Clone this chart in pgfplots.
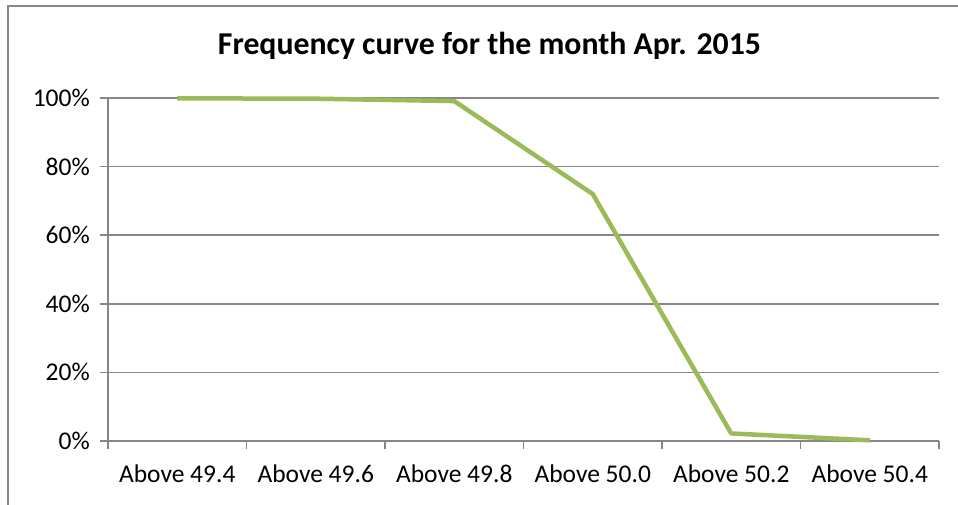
\documentclass[border=0pt]{standalone}
\usepackage{fontspec}
\setmainfont{Carlito}
\usepackage{pgfplots}
\pgfplotsset{compat=1.18}
\definecolor{gridgray}{HTML}{868686}
\definecolor{exgreen}{HTML}{9BBB59}
\begin{document}
\begin{tikzpicture}[x=1pt,y=1pt]
\path[use as bounding box] (-108,-64) rectangle (850,441);
\draw[gridgray, line width=1.5pt] (-100,-64) -- (-100,435) -- (850,435);
\node[anchor=base, font=\fontsize{31.8}{36}\selectfont\bfseries] at (381.5,386) {Frequency curve for the month Apr. 2015};
\begin{axis}[
  at={(0,0)}, anchor=south west,
  scale only axis, width=831pt, height=343pt,
  xmin=0, xmax=6, ymin=0, ymax=100,
  axis x line*=bottom, axis y line*=left,
  axis line style={gridgray, line width=1.5pt, -},
  xtick={0,1,2,3,4,5,6},
  xticklabels={},
  extra x ticks={0.5,1.5,2.5,3.5,4.5,5.5},
  extra x tick labels={Above 49.4,Above 49.6,Above 49.8,Above 50.0,Above 50.2,Above 50.4},
  extra x tick style={major tick length=0pt, xticklabel style={inner sep=0pt, anchor=north, yshift=-24pt}},
  ytick={0,20,40,60,80,100},
  yticklabel={\pgfmathprintnumber{\tick}\%},
  /pgf/number format/assume math mode=true,
  tick style={gridgray, line width=1.5pt},
  major tick length=-8pt,
  ymajorgrids,
  major grid style={gridgray, line width=1.5pt},
  ticklabel style={font=\fontsize{25.5}{30}\selectfont, text=black},
  yticklabel style={inner sep=0pt, anchor=east, xshift=-18pt},
  clip=false,
]
\addplot[exgreen, line width=4.5pt, line join=round] coordinates {
 (0.5,99.9) (1.5,99.8) (2.5,99.1) (3.5,72) (4.5,2.2) (5.5,0.2)
};
\end{axis}
\end{tikzpicture}
\end{document}
